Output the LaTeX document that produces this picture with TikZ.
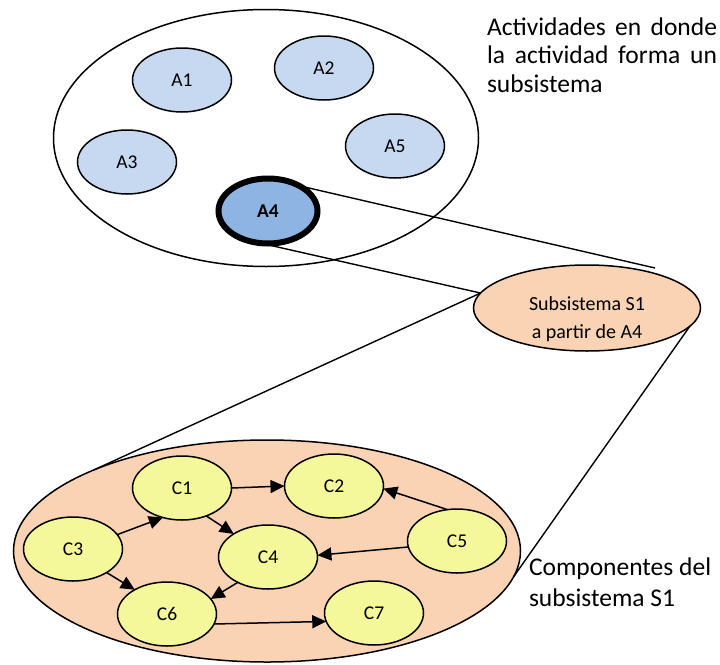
\documentclass[tikz,border=0pt]{standalone}
\usepackage{fontspec}
\setmainfont{Carlito}
\usetikzlibrary{shapes.geometric,arrows.meta}

\definecolor{actfill}{RGB}{198,217,241}
\definecolor{actsel}{RGB}{141,180,227}
\definecolor{peach}{RGB}{250,211,180}
\definecolor{compfill}{RGB}{244,248,155}

\begin{document}
\begin{tikzpicture}[x=1pt,y=-1pt,
  every node/.style={outer sep=0pt,inner sep=0pt},
  oval/.style={ellipse,draw=black,line width=1.5pt},
  actnode/.style={oval,fill=actfill,minimum width=99pt,minimum height=64pt,
    font=\fontsize{19.5}{22}\selectfont},
  selnode/.style={oval,fill=actsel,line width=6pt,minimum width=99pt,minimum height=65pt,
    font=\fontsize{19.5}{22}\selectfont\bfseries},
  compnode/.style={oval,fill=compfill,minimum width=99pt,minimum height=64pt,
    font=\fontsize{19.5}{22}\selectfont},
  flow/.style={line width=1.5pt,-{Triangle[length=14pt,width=13pt]}},
  link/.style={line width=1.4pt},
  note/.style={anchor=base west,font=\fontsize{25.5}{29}\selectfont}
]
\useasboundingbox[fill=white] (0,0) rectangle (720,664);

% activity group
\node[oval,fill=white,minimum width=425pt,minimum height=257pt] (grp) at (266,138) {};
\node[actnode] (A1) at (182,80) {A1};
\node[actnode] (A2) at (324,68) {A2};
\node[actnode] (A3) at (127,162) {A3};
\node[actnode] (A5) at (395,146) {A5};
\node[selnode] (A4) at (268,211) {A4};

% subsystem S1
\node[oval,fill=peach,minimum width=227pt,minimum height=86pt] (S1) at (587,308) {};
\node[align=center,font=\fontsize{20}{28}\selectfont] (S1t) at ([yshift=-11pt]S1.center)
  {Subsistema S1\\a partir de A4};
\coordinate (S1top) at (655,268);

% components of S1
\node[oval,fill=peach,minimum width=507pt,minimum height=222pt] (cmp) at (267,551) {};
\node[compnode] (C1) at (182,488) {C1};
\node[compnode] (C2) at (334,486) {C2};
\node[compnode] (C3) at (73,549) {C3};
\node[compnode] (C4) at (268,557) {C4};
\node[compnode] (C5) at (457,541) {C5};
\node[compnode] (C6) at (167,614) {C6};
\node[compnode] (C7) at (374,613) {C7};

% zoom lines
\draw[link] (A4.39) -- (S1top);
\draw[link] (A4.257) -- (S1.172);
\draw[link] (S1.172) -- (cmp.155.4);
\draw[link] (S1.-10) -- (cmp.-6);

% component flows
\draw[flow] (C1.east) -- (C2.west);
\draw[flow] (C3.18) -- (C1.237);
\draw[flow] (C3.-35) -- (C6.143);
\draw[flow] (C1.-49) -- (C4.146);
\draw[flow] (C4.220) -- (C6.19);
\draw[flow] (C5.107) -- (C2.-3);
\draw[flow] (C5.187) -- (C4.2);
\draw[flow] (C6.-12) -- (C7.190);

% annotations
\node[note] (n1) at (487,35) {\makebox[230pt][s]{Actividades en donde}};
\node[note] (n2) at (487,63.5) {\makebox[230pt][s]{la actividad forma un}};
\node[note] (n3) at (487,92) {subsistema};
\node[note] (n4) at (529,575) {Componentes del};
\node[note] (n5) at (529,606) {subsistema S1};
\end{tikzpicture}
\end{document}
